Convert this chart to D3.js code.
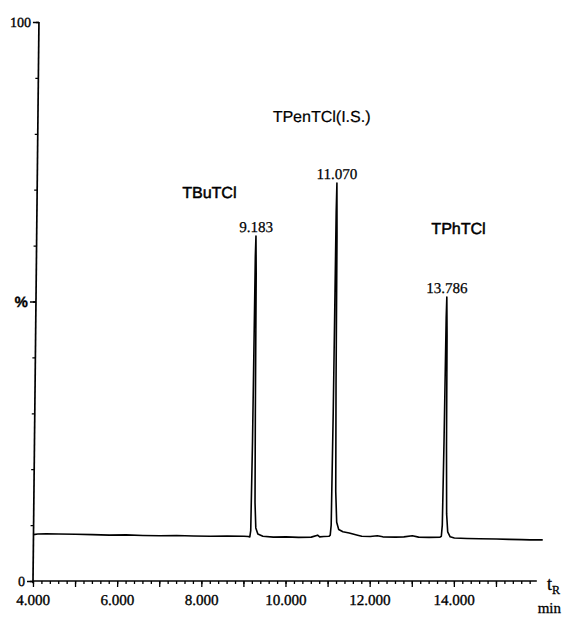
<!DOCTYPE html>
<html>
<head>
<meta charset="utf-8">
<script src="https://cdn.jsdelivr.net/npm/d3@7"></script>
<style>
  body { margin: 0; background: #fff; }
  svg { display: block; }
</style>
</head>
<body>
<div id="chart"></div>
<script>
// chromatogram data (retention time in min, response in %)
var peakNames = ["TBuTCl", "TPenTCl(I.S.)", "TPhTCl"];
var peakTimes = [9.21, 11.12, 13.76];
var peakLabels = ["9.183", "11.070", "13.786"];
var peakHeights = [61.7, 71.2, 50.8];

var traceTimes = [
  4.0, 4.1, 4.3, 4.6, 5.0, 5.4, 5.8, 6.2, 6.6, 7.0, 7.4, 7.8, 8.2, 8.6, 9.0,
  9.10, 9.14, 9.16, 9.18, 9.20, 9.21, 9.225, 9.24, 9.255, 9.28, 9.33, 9.45,
  9.7, 10.0, 10.3, 10.6, 10.75, 10.8, 10.9,
  11.02, 11.05, 11.07, 11.09, 11.11, 11.12, 11.135, 11.15, 11.17, 11.2, 11.25, 11.35, 11.5, 11.7, 11.8,
  12.0, 12.17, 12.3, 12.6, 12.8, 13.0, 13.15, 13.4,
  13.66, 13.69, 13.71, 13.73, 13.75, 13.76, 13.775, 13.79, 13.81, 13.84, 13.9, 14.0,
  14.3, 14.6, 15.0, 15.3, 15.6, 15.8, 16.1
];
var traceValues = [
  8.3, 8.4, 8.45, 8.4, 8.35, 8.3, 8.2, 8.25, 8.15, 8.1, 8.15, 8.05, 8.0, 8.05, 8.0,
  7.95, 7.9, 9, 25, 58, 61.7, 55, 30, 14, 9.5, 8.4, 8.0,
  7.85, 7.9, 7.8, 7.85, 8.2, 7.9, 7.95,
  8.0, 8.2, 10, 30, 66, 71.2, 62, 35, 16, 10.5, 9.2, 8.8, 8.6, 8.2, 8.0,
  7.95, 8.1, 7.9, 7.85, 7.9, 8.1, 7.85, 7.8,
  7.85, 8.0, 10, 25, 47, 50.8, 44, 24, 12, 8.8, 7.9, 7.7,
  7.6, 7.55, 7.5, 7.45, 7.4, 7.35, 7.35
];

var svgWidth = 563;
var svgHeight = 619;

var serif = "'Liberation Serif', 'Times New Roman', serif";
var sans = "'Liberation Sans', Arial, sans-serif";

var svg = d3.select("#chart")
  .append("svg")
  .attr("width", svgWidth)
  .attr("height", svgHeight);

// the scanned original leans slightly to the right
var plot = svg.append("g")
  .attr("transform", "translate(0,581) skewX(-0.61) translate(0,-581)");

var x = d3.scaleLinear().domain([4, 15]).range([33, 496]);
var y = d3.scaleLinear().domain([0, 100]).range([581, 22]);

// x axis: minor ticks every 0.2 min, major every 1 min
var minorX = plot.append("g")
  .attr("transform", "translate(0,581)")
  .call(d3.axisBottom(x)
    .tickValues(d3.range(4, 15.81, 0.2))
    .tickSize(3)
    .tickFormat(""));

var majorX = plot.append("g")
  .attr("transform", "translate(0,581)")
  .call(d3.axisBottom(x)
    .tickValues(d3.range(4, 15.5, 1))
    .tickSize(6)
    .tickPadding(7)
    .tickFormat(d => (d % 2 === 0 ? d3.format(".3f")(d) : "")));

// y axis
var minorY = plot.append("g")
  .attr("transform", "translate(33,0)")
  .call(d3.axisLeft(y)
    .tickValues(d3.range(0, 101, 10))
    .tickSize(3)
    .tickFormat(""));

var majorY = plot.append("g")
  .attr("transform", "translate(33,0)")
  .call(d3.axisLeft(y)
    .tickValues([0, 50, 100])
    .tickSize(6)
    .tickPadding(2)
    .tickFormat(d => (d === 50 ? "%" : d)));

plot.selectAll(".domain").remove();
plot.selectAll(".tick line").attr("stroke", "#000").attr("stroke-width", 1.3);
plot.selectAll(".tick text")
  .attr("fill", "#000")
  .attr("stroke", "#000")
  .attr("stroke-width", 0.35)
  .style("font-family", serif)
  .style("font-size", "15px");
majorY.selectAll(".tick text").style("font-size", "14px");
majorY.selectAll(".tick text").filter(d => d === 50)
  .style("font-family", sans)
  .style("font-size", "15px")
  .style("font-weight", "bold");

// axis lines
plot.append("line")
  .attr("x1", x(4)).attr("x2", x(15.97))
  .attr("y1", y(0)).attr("y2", y(0))
  .attr("stroke", "#000").attr("stroke-width", 1.7);

plot.append("line")
  .attr("x1", x(4)).attr("x2", x(4))
  .attr("y1", y(0) + 2).attr("y2", y(100))
  .attr("stroke", "#000").attr("stroke-width", 1.7);

// axis title t_R / min
var tR = svg.append("text")
  .attr("x", 547)
  .attr("y", 590)
  .attr("stroke", "#000")
  .attr("stroke-width", 0.3)
  .style("font-family", serif)
  .style("font-size", "18px")
  .text("t");
tR.append("tspan")
  .attr("dy", 4)
  .style("font-size", "12px")
  .text("R");

svg.append("text")
  .attr("x", 561)
  .attr("y", 613)
  .attr("text-anchor", "end")
  .attr("stroke", "#000")
  .attr("stroke-width", 0.3)
  .style("font-family", serif)
  .style("font-size", "15px")
  .text("min");

// signal trace
var trace = traceTimes.map((t, i) => [t, traceValues[i]]);

var line = d3.line()
  .x(d => x(d[0]))
  .y(d => y(d[1]));

plot.append("path")
  .datum(trace)
  .attr("d", line)
  .attr("fill", "none")
  .attr("stroke", "#000")
  .attr("stroke-width", 1.6)
  .attr("stroke-linejoin", "round");

// retention time labels over each peak
plot.selectAll(".rt")
  .data(peakTimes)
  .enter()
  .append("text")
  .attr("class", "rt")
  .attr("x", d => x(d))
  .attr("y", (d, i) => y(peakHeights[i]) - 4)
  .attr("text-anchor", "middle")
  .attr("stroke", "#000")
  .attr("stroke-width", 0.25)
  .style("font-family", serif)
  .style("font-size", "15px")
  .text((d, i) => peakLabels[i]);

// compound names
var nameOffsets = [
  { dx: -47, dy: -38 },
  { dx: -16, dy: -61 },
  { dx: 11, dy: -63 }
];

plot.selectAll(".name")
  .data(peakNames)
  .enter()
  .append("text")
  .attr("class", "name")
  .attr("x", (d, i) => x(peakTimes[i]) + nameOffsets[i].dx)
  .attr("y", (d, i) => y(peakHeights[i]) + nameOffsets[i].dy)
  .attr("text-anchor", "middle")
  .attr("stroke", "#000")
  .attr("stroke-width", (d, i) => (i === 1 ? 0.2 : 0.5))
  .style("font-family", sans)
  .style("font-size", "16px")
  .text(d => d);
</script>
</body>
</html>
